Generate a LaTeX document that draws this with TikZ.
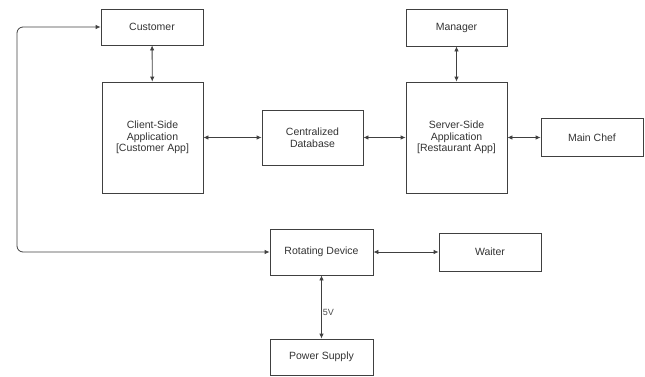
\documentclass[tikz,border=0pt]{standalone}
\usepackage{fontspec}
\setmainfont{Liberation Sans}
\usetikzlibrary{arrows.meta}
\begin{document}
\begin{tikzpicture}[x=1pt,y=-1pt]
			\tikzset{block/.style = {draw=black!75, line width=0.8pt, text=black!80, align=center, inner sep=0pt, font=\fontsize{10.5}{11.7}\selectfont}}
			\tikzset{edge/.style = {<->,> = {Latex[length=5pt,width=4.5pt]}, draw=black!75, line width=0.8pt}}
			\useasboundingbox (0,0) rectangle (645,376);
			% Top row
			\node[block, minimum width=102, minimum height=36] (Customer) at (152,27) {Customer};
			\node[block, minimum width=101, minimum height=37] (Manager) at (456.5,27.5) {Manager};
			% Middle row
			\node[block, minimum width=101, minimum height=111] (Client) at (152.5,137.5) {Client-Side\\Application\\{[Customer App]}};
			\node[block, minimum width=101, minimum height=55] (DB) at (312.5,137.5) {Centralized\\Database};
			\node[block, minimum width=101, minimum height=111] (Server) at (456.5,137.5) {Server-Side\\Application\\{[Restaurant App]}};
			\node[block, minimum width=102, minimum height=38] (Chef) at (592,137.5) {Main Chef};
			% Bottom part
			\node[block, minimum width=103, minimum height=46] (Rotating) at (321.5,252) {Rotating Device};
			\node[block, minimum width=102, minimum height=38] (Waiter) at (490,252) {Waiter};
			\node[block, minimum width=103, minimum height=36] (Power) at (321.5,357) {Power Supply};
			\coordinate (LoopB) at (17,252);
			\coordinate (LoopT) at (17,27);
			\draw[edge] (Customer) -- (Client);
			\draw[edge] (Manager) -- (Server);
			\draw[edge] (Client) -- (DB);
			\draw[edge] (DB) -- (Server);
			\draw[edge] (Server) -- (Chef);
			\draw[edge] (Rotating) -- (Waiter);
			\draw[edge] (Rotating) to node[pos=0.58, right, inner sep=1pt, text=black!70, font=\fontsize{9}{10}\selectfont] {5V} (Power);
			\draw[edge, rounded corners=6pt] (Rotating.west) -- (LoopB) -- (LoopT) -- (Customer.west);
		\end{tikzpicture}
\end{document}
